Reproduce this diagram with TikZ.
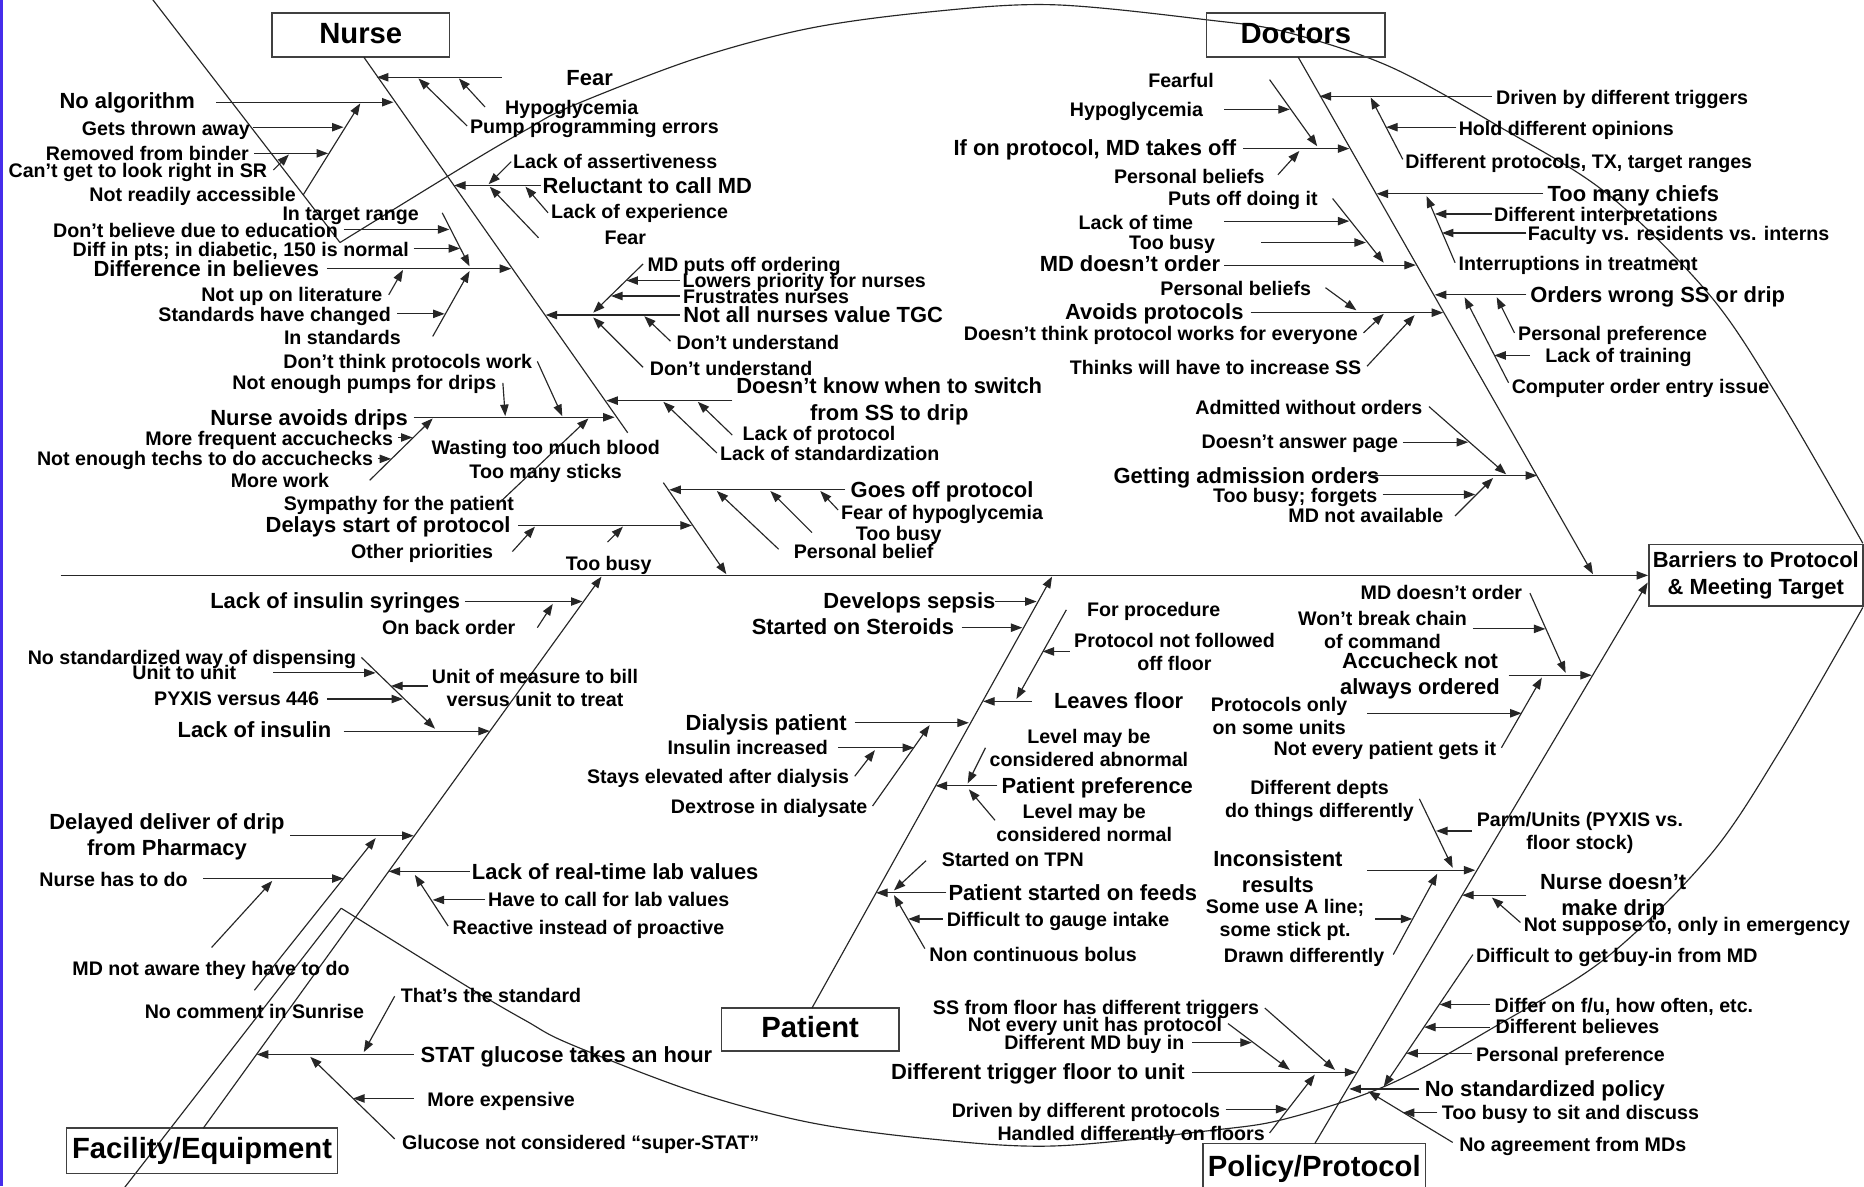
\documentclass[tikz,border=0pt]{standalone}
\usepackage{fontspec}
\setmainfont{Liberation Sans}
\usetikzlibrary{arrows.meta}
\definecolor{edgeblue}{RGB}{70,45,235}
\begin{document}
\begin{tikzpicture}[x=0.02cm,y=-0.02cm,
  ln/.style={line width=0.55pt, black!85},
  arr/.style={ln, -{Triangle[length=5.5pt,width=4pt]}},
  tsm/.style={inner sep=0pt, yshift=-1.1pt, font=\fontsize{9.4}{11}\selectfont\bfseries, text height=0.75em, text depth=0.21em},
  tmd/.style={inner sep=0pt, yshift=-1.1pt, font=\fontsize{10.5}{12.5}\selectfont\bfseries, text height=0.75em, text depth=0.21em},
  tsmtwo/.style={inner sep=0pt, yshift=-0.9pt, align=center, font=\fontsize{9.4}{11}\selectfont\bfseries},
  tmdtwo/.style={inner sep=0pt, yshift=-0.9pt, align=center, font=\fontsize{10.5}{12.5}\selectfont\bfseries},
  tbg/.style={inner sep=0pt, yshift=-1.6pt, font=\fontsize{14}{16}\selectfont\bfseries, text height=0.75em, text depth=0.21em},
  catbox/.style={draw=black!75, line width=0.8pt, inner sep=0pt, font=\fontsize{14}{16}\selectfont\bfseries, text height=0.87em, text depth=0.09em},
]
\useasboundingbox (0,0) rectangle (1568,998);
\fill[white] (0,0) rectangle (1568,998);
\fill[edgeblue] (0,0) rectangle (2.5,998);

% ---------- fish outline ----------
\draw[ln] (121,-10) -- (286,204);
\draw[ln] plot[smooth, tension=0.55] coordinates {(286,204) (395,137) (443,109) (479,90) (583,50) (680,24) (782,10) (886,4) (1018,17) (1082,27) (1169,56) (1262,107) (1352,163) (1438,248) (1497,336) (1567,457)};
\draw[ln] plot[smooth, tension=0.55] coordinates {(287,764) (395,831) (443,859) (479,878) (583,918) (680,944) (782,958) (886,964) (1018,951) (1082,941) (1169,912) (1262,861) (1352,805) (1438,720) (1497,632) (1567,511)};
\draw[ln] (287,764) -- (97,1009);

% ---------- category boxes ----------
\node[catbox, minimum width=2.98cm, minimum height=0.74cm] (nurse) at (303.5,29.5) {Nurse};
\node[catbox, minimum width=3.0cm, minimum height=0.74cm] (doctors) at (1090,29.5) {Doctors};
\node[catbox, minimum width=2.98cm, minimum height=0.72cm] (patient) at (681.5,866) {Patient};
\node[catbox, minimum width=4.56cm, minimum height=0.76cm] (facility) at (170,968) {Facility/Equipment};
\node[draw=black!75, line width=0.8pt, minimum width=3.74cm, minimum height=1.0cm] (policybox) at (1105.5,987) {};
\node[tbg] (policy) at (1105.5,982) {Policy/Protocol};
\node[draw=black!75, line width=0.8pt, inner sep=0pt, align=center, font=\fontsize{10.5}{12.5}\selectfont\bfseries, minimum width=3.6cm, minimum height=1.04cm] (barriers) at (1477,484) {Barriers to Protocol\\\& Meeting Target};

% ---------- spine and bones ----------
\draw[arr] (51,484) -- (barriers.west);
\draw[ln] (306,48) -- (528,364);
\draw[arr] (558,406) -- (611,483);
\draw[arr] (1092,48) -- (1340,483);
\draw[arr] (683,848) -- (885,485);
\draw[arr] (171,949) -- (506,485);
\draw[arr] (1106,962) -- (1386,490);

% ---------- NURSE texts ----------
\node[tmd] (fear1) at (496,65) {Fear};
\node[tsm] (hypo1) at (481,90) {Hypoglycemia};
\node[tsm] (pump) at (500,106) {Pump programming errors};
\node[tmd] (noalg) at (107,85) {No algorithm};
\node[tsm] (thrown) at (139.5,107) {Gets thrown away};
\node[tsm] (binder) at (124,128) {Removed from binder};
\node[tsm] (cantget) at (116,143) {Can’t get to look right in SR};
\node[tsm] (notread) at (162,163) {Not readily accessible};
\node[tsm] (assert) at (517.5,135) {Lack of assertiveness};
\node[tmd] (reluct) at (544.5,156) {Reluctant to call MD};
\node[tsm] (lackexp) at (538,177) {Lack of experience};
\node[tsm] (fear2) at (526,199) {Fear};
\node[tsm] (intarget) at (295,179) {In target range};
\node[tsm] (dontbel) at (164.5,193) {Don’t believe due to education};
\node[tsm] (diffpts) at (202.5,209) {Diff in pts; in diabetic, 150 is normal};
\node[tmd] (diffbel) at (173.5,226) {Difference in believes};
\node[tsm] (notup) at (245.5,247) {Not up on literature};
\node[tsm] (stdchg) at (231,264) {Standards have changed};
\node[tsm] (instd) at (288,283) {In standards};
\node[tsm] (mdputs) at (626,222) {MD puts off ordering};
\node[tsm] (lowers) at (676.5,235) {Lowers priority for nurses};
\node[tsm] (frust) at (644.5,249) {Frustrates nurses};
\node[tmd] (notall) at (684,265) {Not all nurses value TGC};
\node[tsm] (dontundA) at (637.5,287) {Don’t understand};
\node[tsm] (dontundB) at (615,309) {Don’t understand};
\node[tmdtwo] (doesnt) at (748,336) {Doesn’t know when to switch\\from SS to drip};
\node[tsm] (lackprot) at (689,364) {Lack of protocol};
\node[tsm] (lackstd) at (698,381) {Lack of standardization};
\node[tsm] (dontthink) at (343,303) {Don’t think protocols work};
\node[tsm] (pumps) at (306.5,321) {Not enough pumps for drips};
\node[tmd] (avoids) at (260,351) {Nurse avoids drips};
\node[tsm] (morefreq) at (226.5,368) {More frequent accuchecks};
\node[tsm] (techs) at (172.5,385) {Not enough techs to do accuchecks};
\node[tsm] (morework) at (235.5,403) {More work};
\node[tsm] (wasting) at (459,376) {Wasting too much blood};
\node[tsm] (sticks) at (459,396) {Too many sticks};
\node[tsm] (sympathy) at (335.5,423) {Sympathy for the patient};
\node[tmd] (delays) at (326.5,441) {Delays start of protocol};
\node[tsm] (otherpri) at (355,463) {Other priorities};
\node[tsm] (toobusyA) at (512,473) {Too busy};
\node[tmd] (goesoff) at (792.5,412) {Goes off protocol};
\node[tsm] (fearhypo) at (792.5,430) {Fear of hypoglycemia};
\node[tsm] (toobusyB) at (756,448) {Too busy};
\node[tsm] (persbel) at (726.5,463) {Personal belief};

% NURSE arrows
\draw[arr] (422,65) -- (317,65);
\draw[arr] (393,106) -- (352,66);
\draw[arr] (408,90) -- (386,66);
\draw[arr] (182,86) -- (331,86);
\draw[arr] (255,164) -- (303,87);
\draw[arr] (213,107) -- (289,107);
\draw[arr] (214,129) -- (276,129);
\draw[arr] (230,143) -- (243,130);
\draw[arr] (455,156) -- (382,156);
\draw[arr] (430,136) -- (411,155);
\draw[arr] (461,179) -- (442,157);
\draw[arr] (453,200) -- (412,157);
\draw[arr] (275,226) -- (430,226);
\draw[arr] (372,179) -- (395,224);
\draw[arr] (289,193) -- (378,193);
\draw[arr] (348,209) -- (387,209);
\draw[arr] (364,283) -- (395,228);
\draw[arr] (334,264) -- (374,264);
\draw[arr] (327,248) -- (339,227);
\draw[arr] (572,265) -- (459,265);
\draw[arr] (541,222) -- (499,263);
\draw[arr] (572,236) -- (527,236);
\draw[arr] (572,249) -- (514,249);
\draw[arr] (541,309) -- (499,267);
\draw[arr] (564,287) -- (542,266);
\draw[arr] (616,337) -- (510,337);
\draw[arr] (616,366) -- (587,338);
\draw[arr] (603,381) -- (558,338);
\draw[arr] (348,351) -- (517,351);
\draw[arr] (423,322) -- (425,350);
\draw[arr] (452,304) -- (473,350);
\draw[arr] (420,423) -- (495,352);
\draw[arr] (311,404) -- (364,352);
\draw[arr] (335,368) -- (347,368);
\draw[arr] (318,386) -- (329,386);
\draw[arr] (436,442) -- (582,442);
\draw[arr] (431,464) -- (450,443);
\draw[arr] (511,456) -- (524,443);
\draw[arr] (711,412) -- (563,412);
\draw[arr] (655,462) -- (603,413);
\draw[arr] (683,448) -- (648,413);
\draw[arr] (705,429) -- (690,413);

% ---------- DOCTORS texts ----------
\node[tsm] (fearful) at (993.5,67) {Fearful};
\node[tsm] (hypo2) at (956,91) {Hypoglycemia};
\node[tmd] (ifon) at (921,124) {If on protocol, MD takes off};
\node[tsm] (persbA) at (1000.5,148) {Personal beliefs};
\node[tsm] (putsoff) at (1045.5,166) {Puts off doing it};
\node[tsm] (lacktime) at (955.5,186) {Lack of time};
\node[tsm] (toobusyC) at (986,203) {Too busy};
\node[tmd] (mdnotA) at (950.5,222) {MD doesn’t order};
\node[tsm] (persbB) at (1039.5,242) {Personal beliefs};
\node[tmd] (avoidprot) at (971,262) {Avoids protocols};
\node[tsm] (doesntthink) at (976.5,280) {Doesn’t think protocol works for everyone};
\node[tsm] (thinks) at (1022.5,308) {Thinks will have to increase SS};
\node[tsm] (drivenA) at (1364.5,81) {Driven by different triggers};
\node[tsm] (hold) at (1317.5,107) {Hold different opinions};
\node[tsm] (diffprot) at (1328,135) {Different protocols, TX, target ranges};
\node[tmd] (chiefs) at (1374,163) {Too many chiefs};
\node[tsm] (interp) at (1351,180) {Different interpretations};
\node[tsm] (faculty) at (1412,196) {Faculty vs. residents vs. interns};
\node[tsm] (interr) at (1327.5,221) {Interruptions in treatment};
\node[tmd] (orders) at (1394.5,248) {Orders wrong SS or drip};
\node[tsm] (persprefA) at (1356.5,280) {Personal preference};
\node[tsm] (training) at (1361.5,298) {Lack of training};
\node[tsm] (computer) at (1380,324) {Computer order entry issue};
\node[tsm] (admitted) at (1101,342) {Admitted without orders};
\node[tsm] (page) at (1093.5,371) {Doesn’t answer page};
\node[tmd] (getting) at (1048.5,400) {Getting admission orders};
\node[tsm] (forgets) at (1089.5,416) {Too busy; forgets};
\node[tsm] (mdnotav) at (1149,433) {MD not available};

% DOCTORS arrows
\draw[arr] (1255,81) -- (1110,81);
\draw[arr] (1180,134) -- (1153,82);
\draw[arr] (1225,107) -- (1166,107);
\draw[arr] (1298,163) -- (1158,163);
\draw[arr] (1224,221) -- (1200,165);
\draw[arr] (1255,180) -- (1207,180);
\draw[arr] (1284,196) -- (1213,196);
\draw[arr] (1284,248) -- (1207,248);
\draw[arr] (1274,280) -- (1259,250);
\draw[arr] (1269,322) -- (1232,250);
\draw[arr] (1287,299) -- (1257,299);
\draw[arr] (1046,125) -- (1135,125);
\draw[arr] (1068,67) -- (1108,123);
\draw[arr] (1030,92) -- (1085,92);
\draw[arr] (1075,147) -- (1093,127);
\draw[arr] (1030,223) -- (1191,223);
\draw[arr] (1121,167) -- (1164,221);
\draw[arr] (1030,186) -- (1135,186);
\draw[arr] (1061,204) -- (1149,204);
\draw[arr] (1052,263) -- (1214,263);
\draw[arr] (1115,242) -- (1141,261);
\draw[arr] (1147,280) -- (1164,264);
\draw[arr] (1150,308) -- (1190,265);
\draw[arr] (1150,400) -- (1293,400);
\draw[arr] (1202,342) -- (1267,399);
\draw[arr] (1180,372) -- (1235,372);
\draw[arr] (1224,434) -- (1256,402);
\draw[arr] (1163,416) -- (1241,416);

% ---------- FACILITY texts ----------
\node[tmd] (syringes) at (282,505) {Lack of insulin syringes};
\node[tsm] (backorder) at (377.5,527) {On back order};
\node[tsm] (nostdway) at (161.5,552) {No standardized way of dispensing};
\node[tsm] (unittounit) at (155,565) {Unit to unit};
\node[tsmtwo] (unitmeas) at (450,577) {Unit of measure to bill\\versus unit to treat};
\node[tsm] (pyxis) at (199,587) {PYXIS versus 446};
\node[tmd] (lackins) at (214,614) {Lack of insulin};
\node[tmdtwo] (delayed) at (140.5,702) {Delayed deliver of drip\\from Pharmacy};
\node[tsm] (nursehas) at (95.5,739) {Nurse has to do};
\node[tsm] (mdaware) at (177.5,814) {MD not aware they have to do};
\node[tsm] (nocomment) at (214,850) {No comment in Sunrise};
\node[tmd] (realtime) at (517.5,733) {Lack of real-time lab values};
\node[tsm] (havecall) at (512,756) {Have to call for lab values};
\node[tsm] (reactive) at (495,779) {Reactive instead of proactive};
\node[tsm] (thats) at (413,837) {That’s the standard};
\node[tmd] (stat) at (476.5,887) {STAT glucose takes an hour};
\node[tsm] (moreexp) at (421.5,924) {More expensive};
\node[tsm] (glucose) at (488.5,960) {Glucose not considered “super-STAT”};

% FACILITY arrows
\draw[arr] (391,506) -- (490,506);
\draw[arr] (452,528) -- (465,508);
\draw[arr] (289,615) -- (412,615);
\draw[arr] (304,553) -- (366,613);
\draw[arr] (230,566) -- (316,566);
\draw[arr] (275,588) -- (339,588);
\draw[arr] (360,577) -- (329,577);
\draw[arr] (244,703) -- (348,703);
\draw[arr] (214,833) -- (316,705);
\draw[arr] (171,739) -- (289,739);
\draw[arr] (178,797) -- (229,741);
\draw[arr] (395,733) -- (327,733);
\draw[arr] (377,779) -- (349,736);
\draw[arr] (408,757) -- (364,757);
\draw[arr] (348,887) -- (216,887);
\draw[arr] (332,838) -- (306,885);
\draw[arr] (332,958) -- (261,889);
\draw[arr] (348,924) -- (297,924);

% ---------- PATIENT texts ----------
\node[tmd] (sepsis) at (765,505) {Develops sepsis};
\node[tmd] (steroids) at (717.5,527) {Started on Steroids};
\node[tsm] (forproc) at (970.5,512) {For procedure};
\node[tsmtwo] (protnot) at (988,547) {Protocol not followed\\off floor};
\node[tmd] (leaves) at (941,589) {Leaves floor};
\node[tmd] (dialysis) at (644.5,608) {Dialysis patient};
\node[tsm] (insinc) at (629,628) {Insulin increased};
\node[tsm] (stays) at (604,652) {Stays elevated after dialysis};
\node[tsm] (dextrose) at (647,678) {Dextrose in dialysate};
\node[tsmtwo] (levabn) at (916,628) {Level may be\\considered abnormal};
\node[tmd] (patpref) at (923,661) {Patient preference};
\node[tsmtwo] (levnorm) at (912,691) {Level may be\\considered normal};
\node[tsm] (tpn) at (852,722) {Started on TPN};
\node[tmd] (feeds) at (902.5,751) {Patient started on feeds};
\node[tsm] (gauge) at (890,773) {Difficult to gauge intake};
\node[tsm] (bolus) at (869,802) {Non continuous bolus};

% PATIENT arrows
\draw[arr] (837,506) -- (872,506);
\draw[arr] (809,528) -- (860,528);
\draw[arr] (868,590) -- (827,590);
\draw[arr] (897,513) -- (855,588);
\draw[arr] (900,548) -- (877,548);
\draw[arr] (719,608) -- (815,608);
\draw[arr] (734,678) -- (782,610);
\draw[arr] (705,629) -- (769,629);
\draw[arr] (719,653) -- (736,631);
\draw[arr] (839,661) -- (787,661);
\draw[arr] (829,629) -- (814,659);
\draw[arr] (837,690) -- (815,664);
\draw[arr] (796,751) -- (737,751);
\draw[arr] (779,724) -- (752,749);
\draw[arr] (778,798) -- (752,753);
\draw[arr] (793,773) -- (764,773);

% ---------- POLICY texts ----------
\node[tsm] (mdnotB) at (1212.5,498) {MD doesn’t order};
\node[tsmtwo] (chain) at (1163,528.5) {Won’t break chain\\of command};
\node[tmdtwo] (accu) at (1194.5,567) {Accucheck not\\always ordered};
\node[tsmtwo] (protonly) at (1076,600.5) {Protocols only\\on some units};
\node[tsm] (notevery) at (1165,629) {Not every patient gets it};
\node[tsmtwo] (depts) at (1110,672) {Different depts\\do things differently};
\node[tsmtwo] (parm) at (1329,699) {Parm/Units (PYXIS vs.\\floor stock)};
\node[tmdtwo] (incons) at (1075,732) {Inconsistent\\results};
\node[tmdtwo] (nursedoesnt) at (1357,753) {Nurse doesn’t\\make drip};
\node[tsmtwo] (aline) at (1081,772.5) {Some use A line;\\some stick pt.};
\node[tsm] (notsuppose) at (1419,777) {Not suppose to, only in emergency};
\node[tsm] (drawn) at (1097,803) {Drawn differently};
\node[tsm] (buyin) at (1360,803) {Difficult to get buy-in from MD};
\node[tsm] (differ) at (1366,845) {Differ on f/u, how often, etc.};
\node[tsm] (ssfloor) at (922,847) {SS from floor has different triggers};
\node[tsm] (noteveryunit) at (921,861) {Not every unit has protocol};
\node[tsm] (diffbelB) at (1327,863) {Different believes};
\node[tsm] (diffmd) at (920.5,876) {Different MD buy in};
\node[tsm] (persprefB) at (1321,886) {Personal preference};
\node[tmd] (difftrig) at (873,901) {Different trigger floor to unit};
\node[tmd] (nostdpol) at (1299.5,916) {No standardized policy};
\node[tsm] (drivenprot) at (913.5,933) {Driven by different protocols};
\node[tsm] (toobusysit) at (1321,935) {Too busy to sit and discuss};
\node[tsm] (handled) at (951.5,953) {Handled differently on floors};
\node[tsm] (noagree) at (1323,962) {No agreement from MDs};

% POLICY arrows
\draw[arr] (1269,568) -- (1339,568);
\draw[arr] (1287,499) -- (1317,566);
\draw[arr] (1239,529) -- (1300,529);
\draw[arr] (1263,629) -- (1297,570);
\draw[arr] (1150,600) -- (1280,600);
\draw[arr] (1150,732) -- (1241,732);
\draw[arr] (1194,672) -- (1222,730);
\draw[arr] (1238,699) -- (1208,699);
\draw[arr] (1172,803) -- (1209,735);
\draw[arr] (1157,773) -- (1188,773);
\draw[arr] (1284,753) -- (1230,753);
\draw[arr] (1279,776) -- (1255,755);
\draw[arr] (1194,916) -- (1135,916);
\draw[arr] (1239,803) -- (1164,914);
\draw[arr] (1253,845) -- (1211,845);
\draw[arr] (1253,864) -- (1198,864);
\draw[arr] (1238,886) -- (1183,886);
\draw[arr] (1222,961) -- (1151,918);
\draw[arr] (1209,936) -- (1180,936);
\draw[arr] (1003,902) -- (1141,902);
\draw[arr] (1064,848) -- (1123,900);
\draw[arr] (1033,861) -- (1085,900);
\draw[arr] (1003,877) -- (1053,877);
\draw[arr] (1068,953) -- (1106,904);
\draw[arr] (1031,933) -- (1083,933);
\end{tikzpicture}
\end{document}
